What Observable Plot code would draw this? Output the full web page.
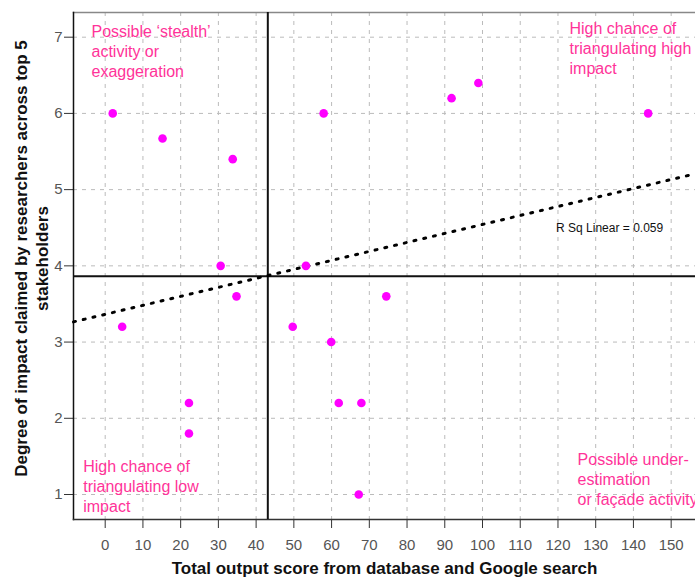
<!DOCTYPE html>
<html><head><meta charset="utf-8">
<script src="https://cdn.jsdelivr.net/npm/d3@7"></script>
<script src="https://cdn.jsdelivr.net/npm/@observablehq/plot@0.6"></script>
<style>body{margin:0;background:#fff}</style>
</head><body><div id="chart"></div>
<script>
// Data
const outputScore  = [2.0, 15.2, 33.8, 30.6, 57.9, 53.2, 91.8, 98.9, 143.9, 4.5, 34.8, 22.2, 22.2, 49.7, 59.9, 61.9, 74.5, 67.9, 67.2];
const impactDegree = [6.0, 5.67, 5.4, 4.0, 6.0, 4.0, 6.2, 6.4, 6.0, 3.2, 3.6, 2.2, 1.8, 3.2, 3.0, 2.2, 3.6, 2.2, 1.0];
const xTicks = [0,10,20,30,40,50,60,70,80,90,100,110,120,130,140,150];
const yTicks = [1,2,3,4,5,6,7];
const splitX = 43.1;   // vertical divider
const splitY = 3.865;  // horizontal divider
const fit = {intercept: 3.364, slope: 0.01179, r2: "0.059"};
const xDomain = [-8.4, 156.45];
const yDomain = [0.672, 7.324];
const quadrantText = [
  "Possible \u2018stealth\u2019\nactivity or\nexaggeration",
  "High chance of\ntriangulating high\nimpact",
  "High chance of\ntriangulating low\nimpact",
  "Possible under-\nestimation\nor fa\u00e7ade activity"
];
const quadrantX = [-3.63, 123.06, -5.83, 125.2];
const quadrantY = [7.19, 7.228, 1.475, 1.575];

const points = outputScore.map((x, i) => ({x, y: impactDegree[i]}));
const quads = quadrantText.map((t, i) => ({t, x: quadrantX[i], y: quadrantY[i]}));
const fitLine = xDomain.map(x => ({x, y: fit.intercept + fit.slope * x}));

const pink = "#ff3399";
const chart = Plot.plot({
  width: 695, height: 579,
  marginLeft: 73, marginTop: 12, marginRight: 0, marginBottom: 60,
  style: {fontFamily: "'Liberation Sans', Arial, sans-serif", color: "#333", background: "#fff", overflow: "hidden"},
  x: {domain: xDomain},
  y: {domain: yDomain},
  marks: [
    Plot.gridX(xTicks, {stroke: "#bbb", strokeOpacity: 1, strokeDasharray: "4,5", strokeWidth: 1}),
    Plot.gridY(yTicks, {stroke: "#bbb", strokeOpacity: 1, strokeDasharray: "4,5", strokeWidth: 1}),
    Plot.axisX({ticks: xTicks, tickFormat: "d", tickSize: 9, tickPadding: 11, fontSize: 15, label: null, fill: "#555", stroke: "#333"}),
    Plot.axisY({ticks: yTicks, tickFormat: "d", tickSize: 9, tickPadding: 2, fontSize: 15, label: null, fill: "#555", stroke: "#333"}),
    Plot.frame({anchor: "top", stroke: "#888", strokeWidth: 1.5}),
    Plot.frame({anchor: "left", stroke: "#111", strokeWidth: 1.5}),
    Plot.frame({anchor: "bottom", stroke: "#333", strokeWidth: 1.5}),
    Plot.ruleX([splitX], {stroke: "#111", strokeWidth: 2}),
    Plot.ruleY([splitY], {stroke: "#111", strokeWidth: 2}),
    Plot.line(fitLine, {x: "x", y: "y", stroke: "#000", strokeWidth: 3, strokeDasharray: "2,8"}),
    Plot.dot(points, {x: "x", y: "y", r: 4.3, fill: "#ff00ff", stroke: "none"}),
    Plot.text(quads, {x: "x", y: "y", text: "t", textAnchor: "start", lineAnchor: "top", lineHeight: 1.25, fontSize: 16, fill: pink}),
    Plot.text([`R Sq Linear = ${fit.r2}`], {x: [119.5], y: [4.492], textAnchor: "start", lineAnchor: "middle", fontSize: 12, fill: "#111"}),
    Plot.text(["Total output score from database and Google search"], {frameAnchor: "bottom", dy: 49, lineAnchor: "middle", fontSize: 17, fontWeight: "bold", fill: "#111"}),
    Plot.text(["Degree of impact claimed by researchers across top 5\nstakeholders"], {frameAnchor: "left", textAnchor: "middle", dx: -42.5, dy: -7.5, rotate: -90, lineAnchor: "middle", lineHeight: 1.24, fontSize: 17, fontWeight: "bold", fill: "#111"})
  ]
});
document.getElementById("chart").appendChild(chart);
</script>
</body></html>
